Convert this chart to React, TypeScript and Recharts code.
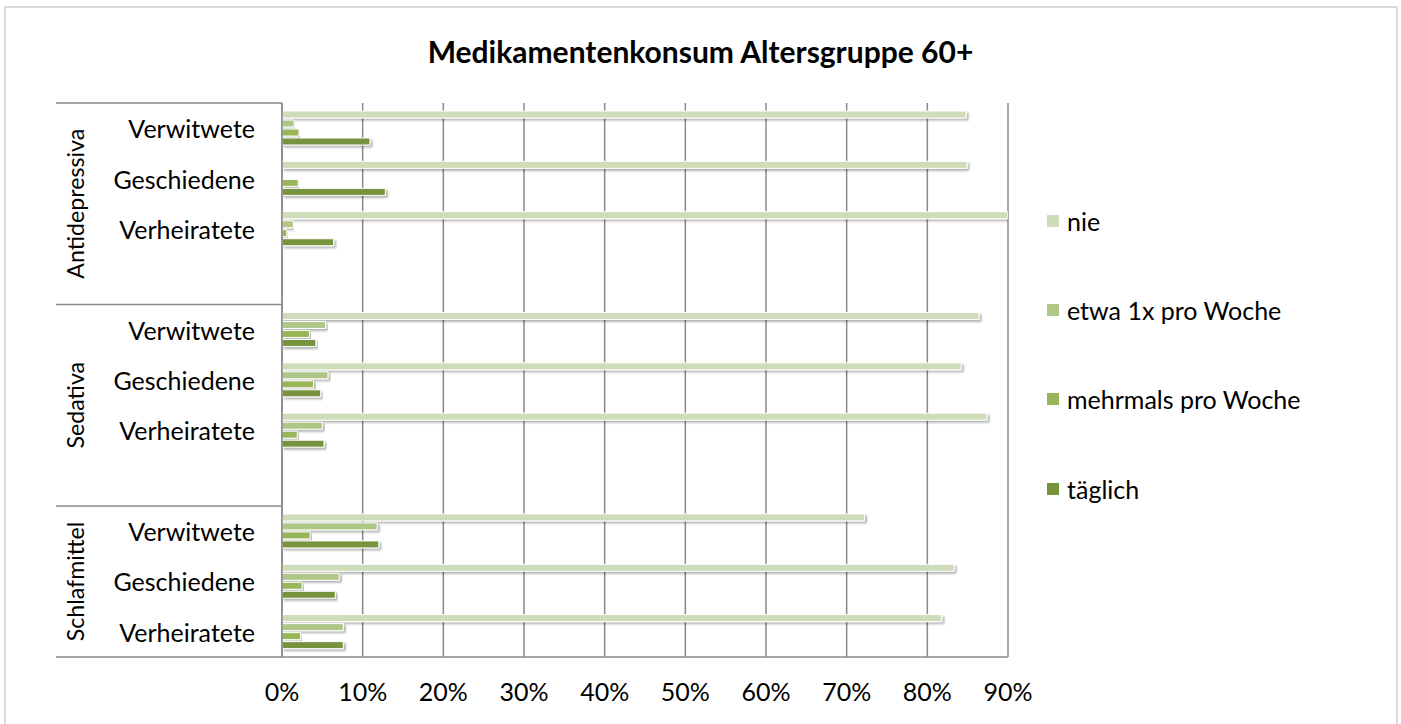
import React from "react";
import { BarChart, Bar, XAxis, YAxis, CartesianGrid, Legend, Rectangle } from "recharts";

const groups = ["Antidepressiva", "Sedativa", "Schlafmittel"];
const groupHasSpacer = [true, true, false];
const subcategories = ["Verwitwete", "Geschiedene", "Verheiratete"];
const seriesKeys = ["nie", "etwa", "mehrmals", "taeglich"];
const seriesNames = ["nie", "etwa 1x pro Woche", "mehrmals pro Woche", "täglich"];
const seriesColors = ["#cfdcb9", "#aec686", "#98b658", "#77933c"];

// values in percent, ordered group by group, then Verwitwete, Geschiedene, Verheiratete
const nie = [84.8, 84.9, 90.0, 86.4, 84.2, 87.4, 72.2, 83.3, 81.8];
const etwa = [1.5, 0, 1.4, 5.4, 5.7, 5.0, 11.8, 7.1, 7.6];
const mehrmals = [2.1, 2.0, 0.6, 3.4, 3.9, 1.9, 3.5, 2.5, 2.3];
const taeglich = [10.9, 12.8, 6.4, 4.2, 4.8, 5.2, 12.0, 6.6, 7.6];
const xTicks = [0, 10, 20, 30, 40, 50, 60, 70, 80, 90];

const title = "Medikamentenkonsum Altersgruppe 60+";

const seriesValues: Record<string, number[]> = { nie, etwa, mehrmals, taeglich };

type Row = { id: string; group: string; label: string; [k: string]: any };
const rows: Row[] = [];
groups.forEach((g, gi) => {
  subcategories.forEach((s, si) => {
    const k = gi * subcategories.length + si;
    const r: Row = { id: `${g}|${s}`, group: g, label: s };
    seriesKeys.forEach((key) => (r[key] = seriesValues[key][k]));
    rows.push(r);
  });
  if (groupHasSpacer[gi]) rows.push({ id: `${g}|spacer`, group: g, label: "" });
});

const FONT = "Lato, 'Noto Sans', sans-serif";
const W = 1401;
const H = 724;
const PLOT_LEFT = 282;
const PLOT_TOP = 103;
const PLOT_RIGHT = 1008;
const XAXIS_H = 67;
const GROUP_LINE_LEFT = 56;
const GROUP_LABEL_X = 75;
const LINE_COLOR = "#8a8a8a";
const TEXT_SIZE = 25;
const GROUP_SIZE = 23.2;

const YTick = (props: any) => {
  const { y, payload } = props;
  const idx: number = payload?.index ?? props.index;
  const row = rows[idx];
  if (!row) return null;
  const bandHalf = (H - XAXIS_H - PLOT_TOP) / rows.length / 2;
  const half: number = payload?.offset ? payload.offset : bandHalf;
  const first = idx === 0 || rows[idx - 1].group !== row.group;
  const last = idx === rows.length - 1;
  const count = rows.filter((r) => r.group === row.group).length;
  const gy = y + (count - 1) * half;
  return (
    <g>
      {row.label && (
        <text x={PLOT_LEFT - 27} y={y} dy={0} textAnchor="end" dominantBaseline="central" fontFamily={FONT} fontSize={TEXT_SIZE} fill="#000">
          {row.label}
        </text>
      )}
      {first && <line x1={GROUP_LINE_LEFT} x2={PLOT_LEFT} y1={y - half} y2={y - half} stroke={LINE_COLOR} strokeWidth={1.5} />}
      {first && (
        <text x={GROUP_LABEL_X} y={gy} transform={`rotate(-90 ${GROUP_LABEL_X} ${gy})`} textAnchor="middle" dominantBaseline="central" fontFamily={FONT} fontSize={GROUP_SIZE} fill="#000">
          {row.group}
        </text>
      )}
      {last && <line x1={GROUP_LINE_LEFT} x2={PLOT_LEFT} y1={y + half} y2={y + half} stroke={LINE_COLOR} strokeWidth={1.5} />}
    </g>
  );
};

const renderLegend = (props: any) => {
  const payload = [...(props.payload || [])].sort(
    (a: any, b: any) => seriesNames.indexOf(a.value) - seriesNames.indexOf(b.value)
  );
  return (
    <div style={{ fontFamily: FONT, fontSize: TEXT_SIZE, color: "#000" }}>
      {payload.map((item: any) => (
        <div key={item.value} style={{ height: 89.3, display: "flex", alignItems: "center" }}>
          <span style={{ display: "inline-block", width: 12, height: 12, background: item.color, marginRight: 8 }} />
          <span style={{ whiteSpace: "nowrap" }}>{item.value}</span>
        </div>
      ))}
    </div>
  );
};

const BarShape = (p: any) => <Rectangle {...p} stroke="#ffffff" strokeWidth={1} filter="url(#barShadow)" />;

export default function App() {
  return (
    <div style={{ position: "relative", width: W, height: H, background: "#fff", overflow: "hidden" }}>
      <style>{`body{margin:0;background:#fff;}`}</style>
      <div style={{ position: "absolute", left: 4, top: 6, width: 1390, height: 730, border: "2px solid #d9d9d9" }} />
      <div style={{ position: "absolute", left: 0, top: 33, width: W, textAlign: "center", fontFamily: FONT, fontWeight: 700, fontSize: 30, lineHeight: "36px", color: "#000" }}>
        {title}
      </div>
      <div style={{ position: "absolute", left: 0, top: 0 }}>
        <BarChart width={W} height={H} data={rows} layout="vertical" margin={{ top: PLOT_TOP, right: W - PLOT_RIGHT, bottom: 0, left: 0 }} barSize={7} barGap={2}>
          <defs>
            <filter id="barShadow" x="-5%" y="-50%" width="110%" height="250%">
              <feDropShadow dx="2" dy="2" stdDeviation="1.2" floodColor="#000" floodOpacity="0.3" />
            </filter>
          </defs>
          <CartesianGrid horizontal={false} stroke={LINE_COLOR} strokeWidth={1.5} />
          <XAxis
            type="number"
            domain={[0, 90]}
            ticks={xTicks}
            tickFormatter={(v: number) => `${v}%`}
            height={XAXIS_H}
            axisLine={{ stroke: LINE_COLOR, strokeWidth: 1.5 }}
            tickLine={false}
            tickSize={0}
            tickMargin={26}
            tick={{ fontFamily: FONT, fontSize: TEXT_SIZE, fill: "#000" }}
            allowDataOverflow
          />
          <YAxis
            type="category"
            dataKey="id"
            width={PLOT_LEFT}
            interval={0}
            axisLine={{ stroke: LINE_COLOR, strokeWidth: 1.5 }}
            tickLine={false}
            tickSize={0}
            tickMargin={27}
            tick={<YTick />}
          />
          <Legend
            layout="vertical"
            align="center"
            verticalAlign="middle"
            content={renderLegend}
            wrapperStyle={{ left: 1047, top: 176, width: 340 }}
          />
          {seriesKeys.map((k, i) => (
            <Bar key={k} dataKey={k} name={seriesNames[i]} fill={seriesColors[i]} isAnimationActive={false} shape={BarShape} />
          ))}
        </BarChart>
      </div>
    </div>
  );
}
